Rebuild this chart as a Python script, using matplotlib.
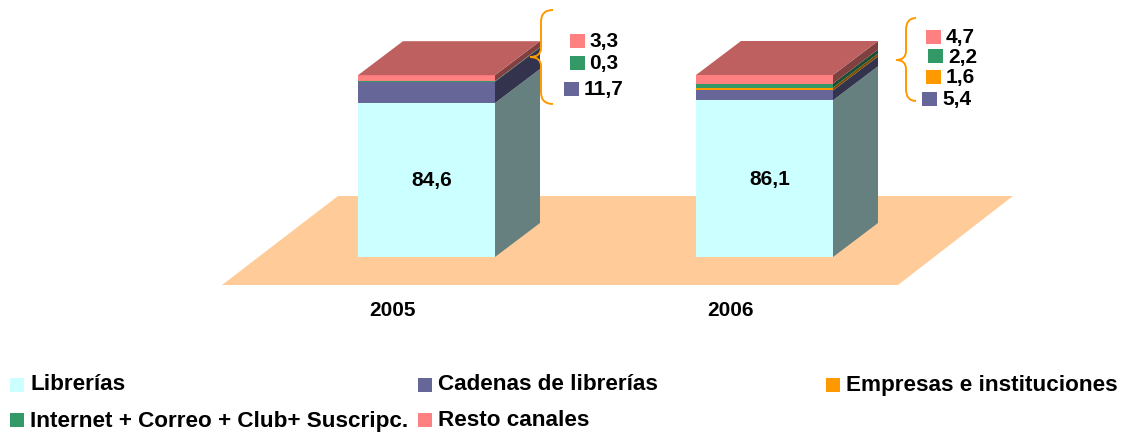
import matplotlib
matplotlib.use("Agg")
import matplotlib.pyplot as plt
from matplotlib.patches import Polygon, PathPatch, Rectangle
from matplotlib.path import Path
from matplotlib.transforms import Affine2D

W, H = 1131, 433
years = ["2005", "2006"]
series = ["Librerías", "Cadenas de librerías", "Empresas e instituciones",
          "Internet + Correo + Club+ Suscripc.", "Resto canales"]
values = {
    "2005": [84.6, 11.7, 0.0, 0.3, 3.3],
    "2006": [86.1, 5.4, 1.6, 2.2, 4.7],
}
front = ["#CCFFFF", "#666699", "#FF9900", "#339966", "#FF8080"]
side = ["#668080", "#33334D", "#804D00", "#1A4D33", "#804040"]
top_col = "#BF6060"
floor_col = "#FFCC99"
orange = "#FF9900"

BASE, SCALE = 257.0, 1.82
bar_left = [358, 696]
bar_w = 137
DX, DY = 45, 34
FONT = "Liberation Sans"
FS = 16.2   # legend, wider tracking in the original
FS2 = 15.0  # labels

fig = plt.figure(figsize=(W / 100, H / 100), dpi=100, facecolor="white")
ax = fig.add_axes([0, 0, 1, 1])
ax.set_xlim(0, W)
ax.set_ylim(-(H - BASE) / SCALE, BASE / SCALE)
ax.axis("off")
px = Affine2D().scale(1, -1).translate(0, H)
dy = DY / SCALE

ax.add_patch(Polygon([(222, 285), (898, 285), (1013, 196), (338, 196)],
                     closed=True, fc=floor_col, ec="none", transform=px, zorder=1))

for year, x0 in zip(years, bar_left):
    bottom = 0.0
    for v, fc, sc in zip(values[year], front, side):
        if v > 0:
            ax.bar(x0, v, bottom=bottom, width=bar_w, align="edge", color=fc, lw=0, zorder=3)
            x1 = x0 + bar_w
            ax.add_patch(Polygon([(x1, bottom), (x1 + DX, bottom + dy),
                                  (x1 + DX, bottom + v + dy), (x1, bottom + v)],
                                 closed=True, fc=sc, ec="none", zorder=2))
        bottom += v
    x1 = x0 + bar_w
    ax.add_patch(Polygon([(x0, bottom), (x1, bottom), (x1 + DX, bottom + dy), (x0 + DX, bottom + dy)],
                         closed=True, fc=top_col, ec="none", zorder=3))
    ax.text(x0 + 74, values[year][0] / 2 - 0.2, f"{values[year][0]}".replace(".", ","),
            ha="center", va="center", family=FONT, weight="bold", fontsize=FS2, zorder=5)
    ax.text(x0 + 34, 310, year, transform=px, ha="center", va="center",
            family=FONT, weight="bold", fontsize=FS2)


def brace(xe, xs, xt, y0, yt, y1):
    C3, L, M = Path.CURVE3, Path.LINETO, Path.MOVETO
    verts = [(xe, y0), (xs, y0), (xs, y0 + 12), (xs, yt - 9), (xs, yt), (xt, yt),
             (xs, yt), (xs, yt + 9), (xs, y1 - 12), (xs, y1), (xe, y1)]
    codes = [M, C3, C3, L, C3, C3, C3, C3, L, C3, C3]
    ax.add_patch(PathPatch(Path(verts, codes), fc="none", ec=orange, lw=1.4,
                           transform=px, zorder=4))


brace(553, 541, 530, 10, 57, 104)
brace(916, 906, 896, 18, 60, 101)

callouts = [
    ("2005", [(4, 570, 34, 589, 41), (3, 570, 56, 589, 63), (1, 564, 82, 584, 89)]),
    ("2006", [(4, 926, 30, 946, 37), (3, 928, 49, 948, 58), (2, 926, 70, 946, 78), (1, 922, 92, 942, 99)]),
]
for year, items in callouts:
    for idx, sx, sy, tx, ty in items:
        ax.add_patch(Rectangle((sx, sy), 15, 14, fc=front[idx], ec="none", transform=px, zorder=4))
        ax.text(tx, ty, f"{values[year][idx]}".replace(".", ","), transform=px, ha="left",
                va="center", family=FONT, weight="bold", fontsize=FS2)

legend_pos = [(10, 378, 30, 385), (418, 378, 438, 385), (826, 378, 846, 385),
              (10, 413, 30, 421), (418, 413, 438, 421)]
for name, fc, (sx, sy, tx, ty) in zip(series, front, legend_pos):
    ax.add_patch(Rectangle((sx, sy), 14, 14, fc=fc, ec="none", transform=px))
    ax.text(tx, ty, name, transform=px, ha="left", va="center",
            family=FONT, weight="bold", fontsize=FS)

fig.savefig("out.png", dpi=100)
